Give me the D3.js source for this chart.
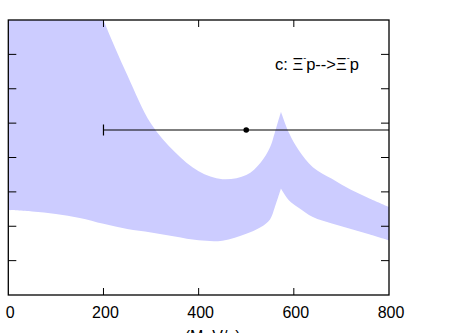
<!DOCTYPE html>
<html>
<head>
<meta charset="utf-8">
<script src="https://cdn.jsdelivr.net/npm/d3@7"></script>
<style>
    body { margin: 0; background: #fff; }
    text { font-family: "Liberation Sans", Arial, Helvetica, sans-serif; }
</style>
</head>
<body>
<script>
    const width = 464;
    const height = 333;

    // band (x in MeV/c, upper / lower edge)
    const bandX = [0, 50, 100, 150, 200, 250, 300, 350, 400, 450, 500, 530, 550, 560, 573, 590, 610, 640, 680, 720, 760, 800];
    const bandUpper = [16, 14, 12.2, 9.9, 8.0, 6.4, 4.98, 4.16, 3.6, 3.37, 3.49, 3.85, 4.3, 4.72, 5.33, 4.71, 4.22, 3.72, 3.38, 3.06, 2.8, 2.56];
    const bandLower = [2.47, 2.43, 2.36, 2.24, 2.07, 1.92, 1.82, 1.70, 1.59, 1.58, 1.78, 1.97, 2.2, 2.55, 3.10, 2.75, 2.54, 2.27, 2.08, 1.92, 1.76, 1.59];
    const cuspX = 573; // sharp peak, both edges

    // data point with horizontal error bar
    const pointX = [500];
    const pointY = [4.8];
    const pointXLow = [200];
    const pointXHigh = [860];

    const xTicks = [0, 200, 400, 600, 800];
    const yTicks = [1, 2, 3, 4, 5, 6, 7];

    const x = d3.scaleLinear().domain([0, 800]).range([8.3, 389]);
    const y = d3.scaleLinear().domain([0, 8]).range([295, 20]);

    const svg = d3.select("body").append("svg")
        .attr("width", width)
        .attr("height", height);

    svg.append("defs").append("clipPath")
        .attr("id", "plot")
        .append("rect")
        .attr("x", x(0)).attr("y", y(8))
        .attr("width", x(800) - x(0))
        .attr("height", y(0) - y(8));

    const band = bandX.map((d, i) => ({x: d, hi: bandUpper[i], lo: bandLower[i]}));
    const area = d3.area()
        .x(d => x(d.x))
        .y0(d => y(d.lo))
        .y1(d => y(d.hi))
        .curve(d3.curveCatmullRom.alpha(0.5));

    // split at the cusp so it stays sharp, one path so no seam
    const left = band.filter(d => d.x <= cuspX);
    const right = band.filter(d => d.x >= cuspX);

    const g = svg.append("g").attr("clip-path", "url(#plot)");
    g.append("path")
        .attr("d", area(left) + area(right))
        .attr("fill", "#ccccff");

    // error bar
    pointX.forEach((px, i) => {
        g.append("line")
            .attr("x1", x(pointXLow[i])).attr("x2", x(pointXHigh[i]))
            .attr("y1", y(pointY[i])).attr("y2", y(pointY[i]))
            .attr("stroke", "#000").attr("stroke-width", 1.2);
        g.append("line")
            .attr("x1", x(pointXLow[i])).attr("x2", x(pointXLow[i]))
            .attr("y1", y(pointY[i]) - 5.5).attr("y2", y(pointY[i]) + 5.5)
            .attr("stroke", "#000").attr("stroke-width", 1.2);
        g.append("circle")
            .attr("cx", x(px)).attr("cy", y(pointY[i]))
            .attr("r", 2.8).attr("fill", "#000");
    });

    // frame + ticks on all four sides
    const axes = svg.append("g").attr("stroke", "#000").attr("fill", "none");
    axes.append("rect")
        .attr("x", x(0)).attr("y", y(8))
        .attr("width", x(800) - x(0)).attr("height", y(0) - y(8))
        .attr("stroke-width", 1.3);

    const inner = xTicks.filter(t => t > 0 && t < 800);
    inner.forEach(t => {
        axes.append("line").attr("x1", x(t)).attr("x2", x(t))
            .attr("y1", y(0)).attr("y2", y(0) - 7).attr("stroke-width", 1);
        axes.append("line").attr("x1", x(t)).attr("x2", x(t))
            .attr("y1", y(8)).attr("y2", y(8) + 7).attr("stroke-width", 1);
    });
    yTicks.forEach(t => {
        axes.append("line").attr("x1", x(0)).attr("x2", x(0) + 8)
            .attr("y1", y(t)).attr("y2", y(t)).attr("stroke-width", 1);
        axes.append("line").attr("x1", x(800)).attr("x2", x(800) - 8)
            .attr("y1", y(t)).attr("y2", y(t)).attr("stroke-width", 1);
    });

    svg.append("g").selectAll("text")
        .data(xTicks)
        .join("text")
        .attr("x", d => x(d) + 2)
        .attr("y", 318)
        .attr("text-anchor", "middle")
        .attr("font-size", 16)
        .text(d => d);

    const xl = svg.append("text")
        .attr("x", (x(0) + x(800)) / 2)
        .attr("y", 342)
        .attr("text-anchor", "middle")
        .attr("font-size", 16);
    xl.append("tspan").text("p");
    xl.append("tspan").attr("font-size", 11).attr("dy", 4).text("lab");
    xl.append("tspan").attr("dy", -4).text(" (MeV/c)");

    // reaction label
    const lab = svg.append("text")
        .attr("x", 275)
        .attr("y", 70)
        .attr("font-size", 16.5);
    lab.append("tspan").text("c: Ξ");
    lab.append("tspan").attr("font-size", 9).attr("dy", -9).text("-");
    lab.append("tspan").attr("dy", 9).text("p-->Ξ");
    lab.append("tspan").attr("font-size", 9).attr("dy", -9).text("-");
    lab.append("tspan").attr("dy", 9).text("p");
</script>
</body>
</html>
